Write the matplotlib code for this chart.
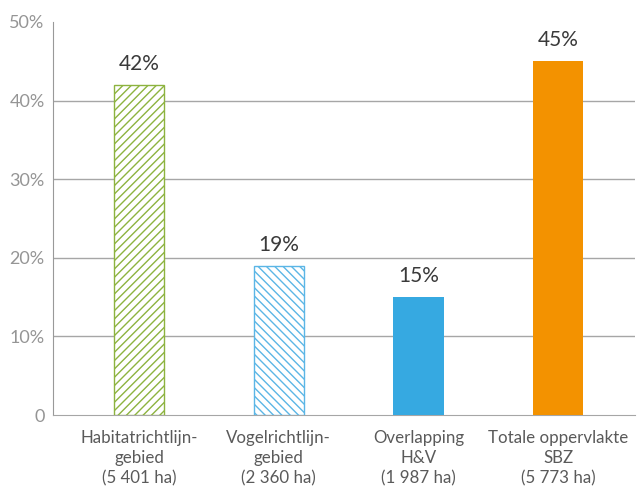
import matplotlib
matplotlib.use("Agg")
import matplotlib.pyplot as plt

plt.rcParams['font.family'] = ['Lato', 'DejaVu Sans']
plt.rcParams['hatch.linewidth'] = 1.0

categories = [
    "Habitatrichtlijn-\ngebied\n(5 401 ha)",
    "Vogelrichtlijn-\ngebied\n(2 360 ha)",
    "Overlapping\nH&V\n(1 987 ha)",
    "Totale oppervlakte\nSBZ\n(5 773 ha)",
]
values = [42, 19, 15, 45]
yticks = [0, 10, 20, 30, 40, 50]
ytick_labels = ["0", "10%", "20%", "30%", "40%", "50%"]

fig = plt.figure(figsize=(6.43, 4.86), dpi=100)
ax = fig.add_axes([53 / 643, 71 / 486, 582 / 643, 393 / 486])

styles = [
    dict(facecolor="white", edgecolor="#8db33f", hatch="////", linewidth=1.0),
    dict(facecolor="white", edgecolor="#5bb6e6", hatch="\\\\\\\\", linewidth=1.0),
    dict(facecolor="#36a9e1", edgecolor="#36a9e1", linewidth=0),
    dict(facecolor="#f39200", edgecolor="#f39200", linewidth=0),
]

x = list(range(len(values)))
for xi, v, st in zip(x, values, styles):
    ax.bar(xi, v, width=0.36, zorder=3, **st)
    ax.annotate(f"{v}%", (xi, v), xytext=(0, 8), textcoords="offset points",
                ha="center", va="bottom", fontsize=15, color="#3a3a3a")

ax.set_xlim(-0.615, 3.55)
ax.set_ylim(0, 50)
ax.set_yticks(yticks)
ax.set_yticklabels(ytick_labels)
ax.set_xticks(x)
ax.set_xticklabels(categories, linespacing=1.3)

for y in yticks[1:-1]:
    ax.axhline(y, color="#a6a6a6", linewidth=1.0, zorder=1)

for s in ["top", "right"]:
    ax.spines[s].set_visible(False)
ax.spines["left"].set_color("#999999")
ax.spines["bottom"].set_color("#a6a6a6")
ax.tick_params(axis="y", length=0, pad=6, labelsize=13, labelcolor="#959595")
ax.tick_params(axis="x", length=0, pad=11, labelsize=12.2, labelcolor="#5a5a5a")

fig.savefig("out.png", dpi=100)
